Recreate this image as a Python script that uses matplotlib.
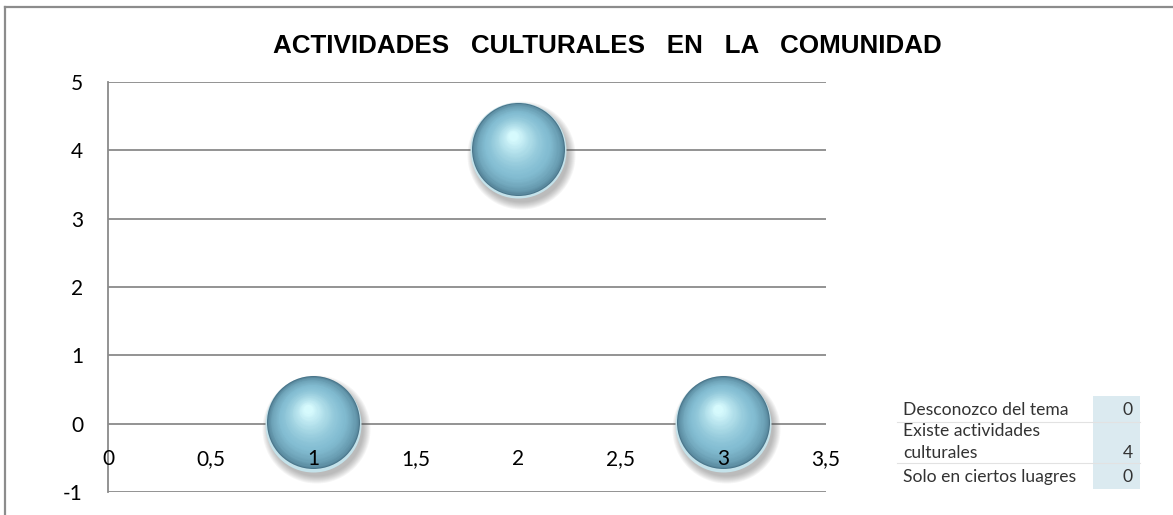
import numpy as np
import matplotlib
matplotlib.use("Agg")
import matplotlib.pyplot as plt
from matplotlib.transforms import offset_copy
from matplotlib.patches import Rectangle
from matplotlib.lines import Line2D
from matplotlib.colors import to_rgb

# datos
x_vals = [1, 2, 3]
y_vals = [0, 4, 0]
table_labels = ["Desconozco del tema", "Existe actividades\nculturales", "Solo en ciertos luagres"]
table_values = [0, 4, 0]
x_ticks = [0, 0.5, 1, 1.5, 2, 2.5, 3, 3.5]
x_ticklabels = ["0", "0,5", "1", "1,5", "2", "2,5", "3", "3,5"]
y_ticks = [-1, 0, 1, 2, 3, 4, 5]

W, H = 1173, 515
fig = plt.figure(figsize=(W / 100, H / 100), dpi=100)
fig.patch.set_facecolor("white")

# marco exterior
fig.add_artist(Line2D([5 / W, 5 / W], [0, 1 - 7 / H], color="#8c8c8c", lw=1.6))
fig.add_artist(Line2D([5 / W, 1], [1 - 7 / H, 1 - 7 / H], color="#8c8c8c", lw=1.6))

ax = fig.add_axes([108 / W, 1 - 492 / H, (826 - 108) / W, (492 - 82) / H])
ax.set_xlim(0, 3.5)
ax.set_ylim(-1, 5)

grid_c = "#8a8a8a"
for s in ["top", "right", "bottom"]:
    ax.spines[s].set_visible(False)
ax.spines["left"].set_color(grid_c)
ax.spines["left"].set_linewidth(1.3)
ax.spines["bottom"].set_position(("data", 0))
for yv in y_ticks:
    ax.axhline(yv, color=grid_c, lw=1.3, zorder=1)

ax.set_yticks(y_ticks)
ax.set_yticklabels([str(v) for v in y_ticks], family="Lato", fontsize=15)
ax.tick_params(axis="y", length=0, pad=18)
ax.set_xticks(x_ticks)
ax.set_xticklabels(x_ticklabels, family="Lato", fontsize=15)
ax.tick_params(axis="x", length=0, pad=18, labelsize=15)
ax.xaxis.set_zorder(20)

# burbujas con degradado
r = 48  # radio en pixeles
def size_pts(rad):
    return (2 * rad * 72 / 100) ** 2

def tr(dx, dy):
    return offset_copy(ax.transData, fig=fig, x=dx, y=dy, units="dots")

# sombra
for k in range(8):
    ax.scatter(x_vals, y_vals, s=size_pts(r + 6 - k), color="#555555", alpha=0.06,
               transform=tr(3, -5), lw=0, zorder=3)
# borde inferior claro
ax.scatter(x_vals, y_vals, s=size_pts(r), color="#c4e2ea", lw=0, zorder=4, transform=tr(0, 0))

edge = np.array(to_rgb("#4a768b"))
mid = np.array(to_rgb("#84bed3"))
hi = np.array(to_rgb("#d6fafd"))
hx, hy = -0.12 * r, 0.3 * r
N = 40
for k in range(N):
    t = k / (N - 1)
    rad = (r - 1.5) * (1 - 0.9 * t)
    if t < 0.35:
        c = edge + (mid - edge) * (t / 0.35) ** 0.5
    else:
        c = mid + (hi - mid) * ((t - 0.35) / 0.65) ** 1.3
    f = 1 - rad / (r - 1.5)
    ax.scatter(x_vals, y_vals, s=size_pts(rad), color=c, lw=0, zorder=5,
               transform=tr(hx * f, 1.5 + hy * f))

# titulo
fig.text(607 / W, 1 - 46 / H, "ACTIVIDADES   CULTURALES   EN   LA   COMUNIDAD",
         family="Liberation Sans", fontweight="bold", fontsize=18.7,
         ha="center", va="center")

# tabla de datos
fig.add_artist(Rectangle((1093 / W, 1 - 489 / H), 47 / W, 93 / H,
                         facecolor="#dbeaf0", edgecolor="none"))
for yy in [422, 463]:
    fig.add_artist(Line2D([897 / W, 1140 / W], [1 - yy / H, 1 - yy / H], color="#e2e2e2", lw=0.8))
label_y = [410, 442, 477]
value_y = [410, 453, 477]
for lab, val, ly, vy in zip(table_labels, table_values, label_y, value_y):
    fig.text(903 / W, 1 - ly / H, lab, family="Lato", fontsize=12.6, color="#333333",
             ha="left", va="center", linespacing=1.45)
    fig.text(1133 / W, 1 - vy / H, str(val), family="Lato", fontsize=12.6, color="#333333",
             ha="right", va="center")

fig.savefig("out.png", dpi=100, facecolor="white")
